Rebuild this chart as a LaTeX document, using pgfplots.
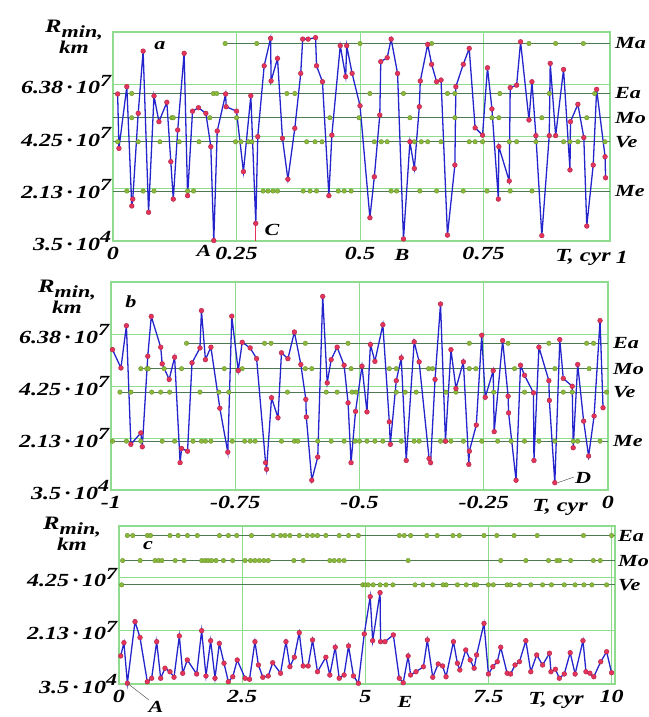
\documentclass[border=0pt]{standalone}
\usepackage{fontspec}
\setmainfont{Liberation Serif}[FakeStretch=1.3]
\usepackage{pgfplots}
\pgfplotsset{compat=1.18}
\definecolor{gridg}{HTML}{8FDC8F}
\definecolor{planet}{HTML}{4C7A52}
\definecolor{dotg}{HTML}{8AB83A}
\definecolor{lineb}{HTML}{2424CC}
\definecolor{mred}{HTML}{E6335C}
\newcommand{\lf}{\fontsize{17bp}{21bp}\selectfont\bfseries\itshape}
\newcommand{\tf}{\fontsize{18.5bp}{21bp}\selectfont\bfseries\itshape}
\newcommand{\tl}[2]{#1\hspace{3.5bp}·\hspace{3.5bp}10\raisebox{0.42em}{\fontsize{17bp}{17bp}\selectfont #2}}
\newcommand{\rlab}{{\fontsize{19bp}{19bp}\selectfont R}\raisebox{-0.3em}{\fontsize{17bp}{17bp}\selectfont min,}\\{\fontsize{18bp}{18bp}\selectfont km}}
\pgfplotsset{
 panel/.style={scale only axis, anchor=south west, clip=false,
  axis line style={draw=gridg, line width=1.2pt},
  grid=major, major grid style={draw=gridg, line width=0.9pt},
  major tick length=0pt, tick style={draw=none},
  tick label style={font=\tf},
  xticklabel style={yshift=-3bp},
  yticklabel style={inner sep=1.5bp}},
 pl/.style={draw=planet, line width=0.9pt, mark=none, forget plot},
 gd/.style={only marks, mark=*, mark size=2.3pt, color=dotg, mark options={draw=dotg!75!black, line width=0.3pt}},
 sr/.style={draw=lineb, line width=1.3pt, mark=*, mark size=2.4pt, mark options={fill=mred, draw=mred!75!black, line width=0.4pt}},
}
\begin{document}
\begin{tikzpicture}
\path[use as bounding box] (0,0) rectangle (649bp,-717bp);
% ---------------- panel a
\begin{axis}[panel, at={(113bp,-241bp)}, width=497bp, height=209bp,
 xmin=0, xmax=1.006, ymin=0, ymax=8.53,
 xtick={0,0.25,0.5,0.75}, xticklabels={0,0.25,0.5,0.75},
 ytick={0.0035,2.13,4.25,6.38}, yticklabels={\tl{3.5}{4},\tl{2.13}{7},\tl{4.25}{7},\tl{6.38}{7}}]
\addplot[pl] coordinates {(0.227,8.06) (1.006,8.06)};
\addplot[pl] coordinates {(0,6.02) (1.006,6.02)};
\addplot[pl] coordinates {(0,5.03) (1.006,5.03)};
\addplot[pl] coordinates {(0,4.05) (1.006,4.05)};
\addplot[pl] coordinates {(0,2.04) (1.006,2.04)};
\addplot[gd] coordinates {(0.227,8.06) (0.291,8.06) (0.50,8.06) (0.645,8.06) (0.842,8.06) (0.896,8.06) (0.952,8.06)};
\addplot[gd] coordinates {(0.038,6.02) (0.203,6.02) (0.21,6.02) (0.352,6.02) (0.368,6.02) (0.52,6.02) (0.588,6.02) (0.677,6.02) (0.692,6.02) (0.783,6.02) (0.883,6.02) (0.975,6.02)};
\addplot[gd] coordinates {(0.038,5.03) (0.119,5.03) (0.122,5.03) (0.196,5.03) (0.25,5.03) (0.439,5.03) (0.498,5.03) (0.601,5.03) (0.692,5.03) (0.767,5.03) (0.781,5.03) (0.868,5.03) (0.959,5.03)};
\addplot[gd] coordinates {(0.0094,4.05) (0.051,4.05) (0.095,4.05) (0.134,4.05) (0.174,4.05) (0.248,4.05) (0.259,4.05) (0.274,4.05) (0.281,4.05) (0.392,4.05) (0.409,4.05) (0.423,4.05) (0.529,4.05) (0.543,4.05) (0.555,4.05) (0.61,4.05) (0.624,4.05) (0.637,4.05) (0.664,4.05) (0.721,4.05) (0.733,4.05) (0.748,4.05) (0.802,4.05) (0.817,4.05) (0.856,4.05) (0.912,4.05) (0.925,4.05) (0.941,4.05) (0.996,4.05)};
\addplot[gd] coordinates {(0.028,2.04) (0.061,2.04) (0.083,2.04) (0.151,2.04) (0.163,2.04) (0.304,2.04) (0.314,2.04) (0.324,2.04) (0.333,2.04) (0.385,2.04) (0.399,2.04) (0.412,2.04) (0.456,2.04) (0.468,2.04) (0.482,2.04) (0.563,2.04) (0.574,2.04) (0.621,2.04) (0.655,2.04) (0.709,2.04) (0.757,2.04) (0.804,2.04) (0.848,2.04)};
\draw[mred, line width=0.6pt] (axis cs:0.289,0.72) -- (axis cs:0.289,0);
\addplot[sr] coordinates {
(0.0094,6.00) (0.012,3.78) (0.028,6.30) (0.038,1.43) (0.040,1.71) (0.051,5.21) (0.061,7.75) (0.072,1.17)
(0.083,5.92) (0.093,4.87) (0.109,5.66) (0.117,3.24) (0.122,1.71) (0.131,4.53) (0.144,7.66) (0.151,1.85)
(0.161,5.30) (0.173,5.44) (0.188,5.21) (0.198,3.85) (0.204,0.02) (0.211,4.49) (0.228,6.00) (0.229,5.48)
(0.250,5.30) (0.264,2.83) (0.279,5.93) (0.289,0.72) (0.293,4.26) (0.306,7.15) (0.319,8.27) (0.320,6.53)
(0.333,7.45) (0.343,4.19) (0.354,2.52) (0.368,4.60) (0.380,6.84) (0.384,8.24) (0.395,8.24) (0.410,8.30)
(0.412,7.15) (0.424,6.50) (0.437,1.85) (0.443,4.32) (0.460,7.97) (0.471,6.71) (0.473,7.97) (0.484,6.84)
(0.500,5.52) (0.520,0.95) (0.529,2.62) (0.540,5.14) (0.542,7.32) (0.555,7.48) (0.563,8.24) (0.576,6.84)
(0.588,0.08) (0.601,4.05) (0.610,2.96) (0.620,5.48) (0.622,6.53) (0.637,8.02) (0.645,7.21) (0.655,6.50)
(0.664,6.57) (0.677,0.24) (0.692,3.10) (0.694,6.30) (0.709,7.21) (0.721,7.86) (0.733,4.62) (0.748,4.32)
(0.758,7.07) (0.767,5.39) (0.780,1.71) (0.781,3.85) (0.802,2.45) (0.804,6.26) (0.817,6.36) (0.825,8.13)
(0.842,4.94) (0.848,6.50) (0.856,4.30) (0.868,0.22) (0.883,4.30) (0.885,7.25) (0.896,4.30) (0.912,7.00)
(0.925,2.90) (0.926,4.87) (0.941,5.58) (0.953,4.22) (0.959,0.61) (0.972,3.10) (0.979,6.19) (0.996,3.44) (0.997,2.58)};
\node[font=\lf, anchor=west, inner sep=0] at (axis cs:1.006,8.06) {\hspace{5bp}Ma};
\node[font=\lf, anchor=west, inner sep=0] at (axis cs:1.006,6.02) {\hspace{5bp}Ea};
\node[font=\lf, anchor=west, inner sep=0] at (axis cs:1.006,5.03) {\hspace{5bp}Mo};
\node[font=\lf, anchor=west, inner sep=0] at (axis cs:1.006,4.05) {\hspace{5bp}Ve};
\node[font=\lf, anchor=west, inner sep=0] at (axis cs:1.006,2.04) {\hspace{5bp}Me};
\end{axis}
% ---------------- panel b
\begin{axis}[panel, at={(111bp,-490bp)}, width=497bp, height=208bp,
 xmin=-1, xmax=0, ymin=0, ymax=8.52,
 xtick={-1,-0.75,-0.5,-0.25,0}, xticklabels={-1,-0.75,-0.5,-0.25,0},
 ytick={0.0035,2.13,4.25,6.38}, yticklabels={\tl{3.5}{4},\tl{2.13}{7},\tl{4.25}{7},\tl{6.38}{7}}]
\addplot[pl] coordinates {(-0.848,6.01) (0,6.01)};
\addplot[pl] coordinates {(-0.94,4.97) (0,4.97)};
\addplot[pl] coordinates {(-0.982,4.01) (0,4.01)};
\addplot[pl] coordinates {(-1,2.0) (0,2.0)};
\addplot[gd] coordinates {(-0.848,6.01) (-0.691,6.01) (-0.678,6.01) (-0.609,6.01) (-0.523,6.01) (-0.279,6.01) (-0.201,6.01) (-0.119,6.01) (-0.043,6.01) (-0.029,6.01)};
\addplot[gd] coordinates {(-0.940,4.97) (-0.928,4.97) (-0.925,4.97) (-0.893,4.97) (-0.858,4.97) (-0.772,4.97) (-0.736,4.97) (-0.609,4.97) (-0.596,4.97) (-0.517,4.97) (-0.440,4.97) (-0.426,4.97) (-0.361,4.97) (-0.353,4.97) (-0.279,4.97) (-0.266,4.97) (-0.188,4.97) (-0.107,4.97) (-0.038,4.97)};
\addplot[gd] coordinates {(-0.982,4.01) (-0.960,4.01) (-0.918,4.01) (-0.900,4.01) (-0.882,4.01) (-0.821,4.01) (-0.783,4.01) (-0.763,4.01) (-0.645,4.01) (-0.567,4.01) (-0.545,4.01) (-0.515,4.01) (-0.507,4.01) (-0.426,4.01) (-0.408,4.01) (-0.386,4.01) (-0.326,4.01) (-0.306,4.01) (-0.230,4.01) (-0.168,4.01) (-0.090,4.01) (-0.072,4.01) (-0.003,4.01)};
\addplot[gd] coordinates {(-0.997,2.0) (-0.969,2.0) (-0.940,2.0) (-0.897,2.0) (-0.872,2.0) (-0.835,2.0) (-0.818,2.0) (-0.810,2.0) (-0.799,2.0) (-0.756,2.0) (-0.731,2.0) (-0.720,2.0) (-0.710,2.0) (-0.657,2.0) (-0.631,2.0) (-0.624,2.0) (-0.584,2.0) (-0.557,2.0) (-0.531,2.0) (-0.509,2.0) (-0.500,2.0) (-0.485,2.0) (-0.469,2.0) (-0.453,2.0) (-0.416,2.0) (-0.390,2.0) (-0.380,2.0) (-0.337,2.0) (-0.327,2.0) (-0.316,2.0) (-0.291,2.0) (-0.254,2.0) (-0.222,2.0) (-0.195,2.0) (-0.168,2.0) (-0.139,2.0) (-0.107,2.0) (-0.070,2.0) (-0.061,2.0) (-0.016,2.0)};
\addplot[sr] coordinates {
(-0.997,5.75) (-0.980,5.00) (-0.969,6.73) (-0.960,1.87) (-0.940,2.34) (-0.937,1.77) (-0.926,5.48) (-0.919,7.11)
(-0.900,5.85) (-0.897,5.17) (-0.883,4.53) (-0.872,5.44) (-0.861,1.12) (-0.858,1.70) (-0.846,1.59) (-0.837,5.21)
(-0.821,5.82) (-0.818,7.35) (-0.810,5.34) (-0.799,5.85) (-0.781,3.35) (-0.765,1.55) (-0.757,7.12) (-0.744,4.89)
(-0.736,6.05) (-0.720,5.82) (-0.707,5.38) (-0.689,1.12) (-0.687,0.85) (-0.677,3.78) (-0.664,2.96) (-0.657,5.62)
(-0.644,5.38) (-0.631,6.47) (-0.618,5.14) (-0.608,3.71) (-0.607,2.99) (-0.596,0.40) (-0.584,1.35) (-0.574,7.93)
(-0.565,4.39) (-0.557,5.34) (-0.545,5.85) (-0.531,5.11) (-0.523,3.57) (-0.517,1.12) (-0.508,3.22) (-0.495,5.07)
(-0.485,3.20) (-0.478,5.96) (-0.469,5.27) (-0.453,6.77) (-0.440,2.79) (-0.438,1.87) (-0.426,4.48) (-0.416,5.41)
(-0.406,1.21) (-0.390,6.07) (-0.380,5.25) (-0.360,1.29) (-0.357,1.12) (-0.348,4.53) (-0.337,7.62) (-0.327,2.00)
(-0.316,5.75) (-0.306,4.16) (-0.291,5.25) (-0.280,1.05) (-0.279,1.59) (-0.265,2.66) (-0.254,6.34) (-0.247,3.80)
(-0.231,4.89) (-0.229,2.39) (-0.212,6.12) (-0.201,3.84) (-0.200,3.16) (-0.185,0.40) (-0.176,5.11) (-0.168,4.70)
(-0.150,3.98) (-0.149,1.21) (-0.139,5.85) (-0.119,4.48) (-0.118,3.67) (-0.107,0.30) (-0.097,6.16) (-0.090,4.57)
(-0.072,4.25) (-0.070,1.73) (-0.061,5.14) (-0.049,2.82) (-0.039,1.39) (-0.028,3.03) (-0.016,6.94) (-0.010,3.37)};
\coordinate (pD) at (axis cs:-0.107,0.30);
\node[font=\lf, anchor=west, inner sep=0] at (axis cs:0,6.01) {\hspace{5bp}Ea};
\node[font=\lf, anchor=west, inner sep=0] at (axis cs:0,4.97) {\hspace{5bp}Mo};
\node[font=\lf, anchor=west, inner sep=0] at (axis cs:0,4.01) {\hspace{5bp}Ve};
\node[font=\lf, anchor=west, inner sep=0] at (axis cs:0,2.0) {\hspace{5bp}Me};
\end{axis}
% ---------------- panel c
\begin{axis}[panel, at={(119bp,-684bp)}, width=496bp, height=158bp,
 xmin=0, xmax=10.07, ymin=0, ymax=6.31,
 xtick={0,2.5,5,7.5,10}, xticklabels={0,2.5,5,7.5,10},
 ytick={0.0035,2.13,4.25}, yticklabels={\tl{3.5}{4},\tl{2.13}{7},\tl{4.25}{7}}]
\addplot[pl] coordinates {(0.12,5.93) (10.07,5.93)};
\addplot[pl] coordinates {(0.074,4.93) (10.07,4.93)};
\addplot[pl] coordinates {(0.054,3.96) (10.07,3.96)};
\addplot[gd] coordinates {(0.17,5.93) (0.28,5.93) (0.575,5.93) (0.64,5.93) (1.035,5.93) (1.20,5.93) (1.39,5.93) (1.59,5.93) (2.04,5.93) (2.22,5.93) (2.39,5.93) (2.69,5.93) (3.13,5.93) (3.28,5.93) (3.37,5.93) (3.47,5.93) (3.66,5.93) (3.82,5.93) (3.93,5.93) (4.03,5.93) (4.20,5.93) (4.47,5.93) (4.66,5.93) (4.86,5.93) (5.69,5.93) (5.79,5.93) (5.92,5.93) (6.25,5.93) (6.46,5.93) (6.78,5.93) (6.91,5.93) (7.41,5.93) (7.67,5.93) (8.02,5.93) (8.49,5.93) (9.43,5.93) (10.0,5.93)};
\addplot[gd] coordinates {(0.074,4.93) (0.43,4.93) (0.73,4.93) (0.80,4.93) (0.87,4.93) (1.14,4.93) (1.32,4.93) (1.68,4.93) (1.75,4.93) (1.81,4.93) (1.88,4.93) (1.97,4.93) (2.12,4.93) (2.31,4.93) (2.56,4.93) (2.67,4.93) (2.76,4.93) (2.85,4.93) (2.94,4.93) (3.03,4.93) (3.55,4.93) (3.74,4.93) (4.28,4.93) (4.37,4.93) (4.47,4.93) (4.57,4.93) (5.87,4.93) (7.75,4.93) (8.26,4.93) (8.72,4.93) (8.89,4.93) (8.95,4.93) (9.17,4.93) (9.63,4.93) (9.77,4.93)};
\addplot[gd] coordinates {(0.054,3.96) (4.95,3.96) (5.0,3.96) (5.06,3.96) (5.16,3.96) (5.30,3.96) (5.42,3.96) (5.56,3.96) (6.01,3.96) (6.17,3.96) (6.37,3.96) (6.58,3.96) (6.64,3.96) (6.87,3.96) (7.05,3.96) (7.21,3.96) (7.26,3.96) (7.50,3.96) (7.60,3.96) (7.88,3.96) (7.95,3.96) (8.13,3.96) (8.36,3.96) (8.60,3.96) (8.78,3.96) (9.04,3.96) (9.26,3.96) (9.44,3.96) (9.60,3.96) (9.90,3.96)};
\addplot[sr] coordinates {
(0.034,1.12) (0.10,1.65) (0.17,0.03) (0.325,2.49) (0.426,1.86) (0.575,0.09) (0.663,0.23) (0.765,1.69)
(0.846,0.23) (0.934,0.63) (1.035,0.49) (1.117,0.27) (1.225,1.92) (1.293,0.43) (1.387,0.96) (1.577,0.40)
(1.678,2.13) (1.766,0.32) (1.861,1.73) (1.949,0.23) (2.037,1.62) (2.132,0.83) (2.22,0.09) (2.31,0.29)
(2.40,0.96) (2.56,0.23) (2.65,0.19) (2.76,1.69) (2.83,0.76) (2.92,0.27) (3.03,0.32) (3.12,0.85)
(3.28,0.43) (3.39,1.69) (3.47,0.69) (3.56,1.07) (3.66,2.05) (3.74,0.72) (3.84,0.72) (3.93,1.76)
(4.03,0.49) (4.20,1.07) (4.28,0.36) (4.39,1.47) (4.47,0.23) (4.57,0.36) (4.66,1.52) (4.76,0.32)
(4.86,0.03) (4.98,2.00) (5.10,3.49) (5.15,1.73) (5.30,3.65) (5.31,1.69) (5.40,1.69) (5.57,1.96)
(5.69,0.23) (5.77,0.05) (5.87,1.12) (5.92,0.36) (6.03,0.49) (6.18,0.69) (6.26,1.76) (6.37,0.27)
(6.48,0.80) (6.57,0.72) (6.64,0.29) (6.79,1.69) (6.87,0.83) (6.92,0.56) (7.04,1.36) (7.13,0.96)
(7.21,0.63) (7.26,1.16) (7.41,2.42) (7.50,0.40) (7.59,0.69) (7.68,0.89) (7.75,1.47) (7.88,0.43)
(7.95,0.40) (8.04,0.76) (8.13,0.89) (8.26,1.73) (8.36,0.49) (8.48,1.16) (8.60,0.76) (8.74,1.23)
(8.77,0.49) (8.86,0.59) (8.94,0.23) (9.04,0.40) (9.16,1.25) (9.26,0.40) (9.42,1.73) (9.48,0.49)
(9.56,0.43) (9.64,0.29) (9.78,0.89) (9.90,1.29) (10.00,0.45)};
\coordinate (pA) at (axis cs:0.17,0.03);
\node[font=\lf, anchor=west, inner sep=0] at (axis cs:10.07,5.93) {\hspace{3bp}Ea};
\node[font=\lf, anchor=west, inner sep=0] at (axis cs:10.07,4.93) {\hspace{3bp}Mo};
\node[font=\lf, anchor=west, inner sep=0] at (axis cs:10.07,3.96) {\hspace{3bp}Ve};
\end{axis}
% ---------------- text labels
\node[font=\lf, align=center, anchor=north, inner sep=0] at (74bp,-20bp) {\rlab};
\node[font=\lf, align=center, anchor=north, inner sep=0] at (67bp,-280bp) {\rlab};
\node[font=\lf, align=center, anchor=north, inner sep=0] at (72bp,-517bp) {\rlab};
\node[font=\lf] at (160bp,-46bp) {a};
\node[font=\lf] at (131bp,-302bp) {b};
\node[font=\lf] at (148bp,-546bp) {c};
\node[font=\lf, inner sep=0] at (204bp,-251bp) {A};
\node[font=\lf] at (402bp,-255bp) {B};
\node[font=\lf] at (272bp,-230bp) {C};
\node[font=\lf] at (583bp,-478bp) {D};
\node[font=\lf] at (405bp,-702bp) {E};
\node[font=\lf] at (156bp,-707bp) {A};
\draw[gray!70!black, line width=0.5pt] (pD) ++(3bp,0) -- (574bp,-477bp);
\draw[gray!70!black, line width=0.5pt] (pA) -- (149bp,-700bp);
\node[font=\tf] at (583bp,-257bp) {T, cyr};
\node[font=\tf] at (622bp,-257bp) {1};
\node[font=\tf] at (560bp,-507bp) {T, cyr};
\node[font=\tf] at (556bp,-700bp) {T, cyr};
\end{tikzpicture}
\end{document}
